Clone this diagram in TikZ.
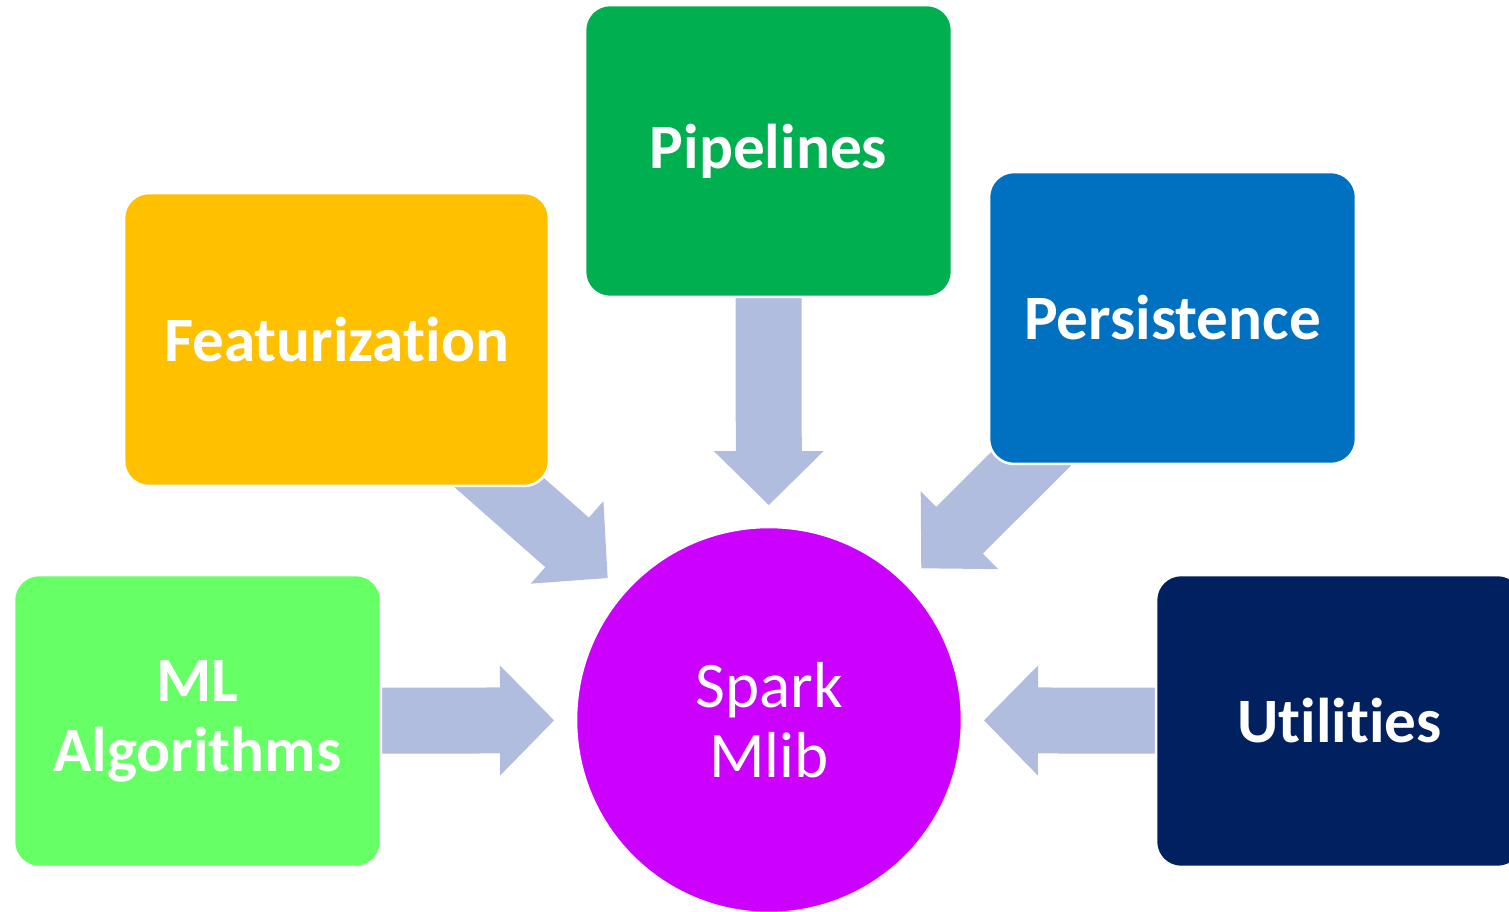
\documentclass[tikz,border=0pt]{standalone}
\usepackage{fontspec}
\setmainfont{Carlito}[Ligatures=NoCommon]
\usetikzlibrary{calc, backgrounds}

\definecolor{pipegreen}{HTML}{00B050}
\definecolor{featyellow}{HTML}{FFC000}
\definecolor{persblue}{HTML}{0070C0}
\definecolor{algogreen}{HTML}{66FF66}
\definecolor{utilnavy}{HTML}{002060}
\definecolor{sparkpurple}{HTML}{CC00FF}
\definecolor{flowblue}{HTML}{B0BDDE}

\begin{document}
\begin{tikzpicture}[
	x=0.02cm, y=-0.02cm,
	module/.style={rectangle, rounded corners=0.5cm, draw=white, line width=0.05cm, text=white, font=\bfseries\fontsize{36}{40}\selectfont, align=center, minimum width=7.34cm, minimum height=5.84cm},
	core/.style={circle, draw=white, line width=0.05cm, fill=sparkpurple, text=white, font=\fontsize{37}{40}\selectfont, align=center, minimum size=7.72cm},
	flow/.style={fill=flowblue}
	]
	
	\useasboundingbox (0,0) rectangle (1509,912);
	\clip (0,0) rectangle (1509,912);
	
	% Spark Mlib
	\node[core] (mlib) at (769,720) {Spark\\Mlib};
	
	% Modules
	\node[module, fill=pipegreen] (pipe) at (768.5,151) {Pipelines};
	\node[module, fill=featyellow, minimum width=8.5cm, minimum height=5.86cm] (feat) at (336.5,339.5) {Featurization};
	\node[module, fill=persblue] (pers) at (1172.5,318) {Persistence};
	\node[module, fill=algogreen] (mlalg) at (197.5,721) {ML\\Algorithms};
	\node[module, fill=utilnavy] (util) at (1339.5,721) {Utilities};
	
	% Arrows into Mlib
	\begin{scope}[on background layer]
		\foreach \src in {pipe, feat, pers, mlalg, util} {
			\coordinate (tip) at ($(mlib.center)!4.3cm!(\src.center)$);
			\coordinate (base) at ($(tip)!1.08cm!(\src.center)$);
			\fill[flow] ($(\src.center)!0.66cm!90:(tip)$) -- ($(base)!0.66cm!90:(tip)$)
				-- ($(base)!1.1cm!90:(tip)$) -- (tip) -- ($(base)!1.1cm!-90:(tip)$)
				-- ($(base)!0.66cm!-90:(tip)$) -- ($(\src.center)!0.66cm!-90:(tip)$) -- cycle;
		}
	\end{scope}
	
\end{tikzpicture}
\end{document}
